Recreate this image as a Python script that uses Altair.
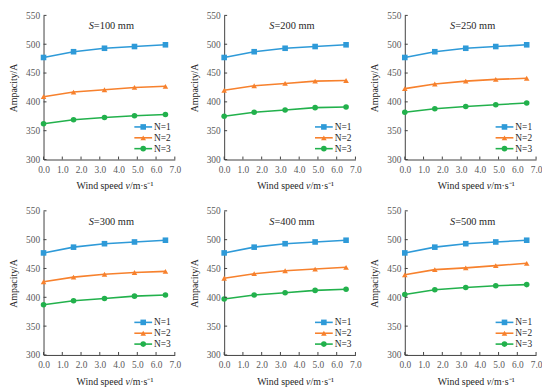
import altair as alt
import pandas as pd

# ---- data ----
wind = [0.0, 1.6, 3.25, 4.85, 6.5]
panels_s = ["100", "200", "250", "300", "400", "500"]
series = ["N=1", "N=2", "N=3"]

s100_n1 = [477, 487, 493, 496, 499]
s100_n2 = [409, 417, 421, 425, 427]
s100_n3 = [362, 369, 373, 376, 378]

s200_n1 = [477, 487, 493, 496, 499]
s200_n2 = [420, 428, 432, 436, 437]
s200_n3 = [375, 382, 386, 390, 391]

s250_n1 = [477, 487, 493, 496, 499]
s250_n2 = [423, 431, 436, 439, 441]
s250_n3 = [382, 388, 392, 395, 398]

s300_n1 = [477, 487, 493, 496, 499]
s300_n2 = [427, 435, 440, 443, 445]
s300_n3 = [387, 394, 398, 402, 404]

s400_n1 = [477, 487, 493, 496, 499]
s400_n2 = [433, 441, 446, 449, 452]
s400_n3 = [397, 404, 408, 412, 414]

s500_n1 = [477, 487, 493, 496, 499]
s500_n2 = [439, 448, 451, 455, 459]
s500_n3 = [405, 413, 417, 420, 422]

x_ticks = [0, 1, 2, 3, 4, 5, 6, 7]
y_ticks = [300, 350, 400, 450, 500, 550]

values = {
    "100": [s100_n1, s100_n2, s100_n3],
    "200": [s200_n1, s200_n2, s200_n3],
    "250": [s250_n1, s250_n2, s250_n3],
    "300": [s300_n1, s300_n2, s300_n3],
    "400": [s400_n1, s400_n2, s400_n3],
    "500": [s500_n1, s500_n2, s500_n3],
}

rows = []
for s in panels_s:
    for name, vals in zip(series, values[s]):
        for w, a in zip(wind, vals):
            rows.append({"S": s, "N": name, "wind": w, "amp": a})
df = pd.DataFrame(rows)

# ---- style ----
FONT = "Liberation Serif"
COLORS = ["#2E9AD8", "#F7812D", "#22B14C"]
SHAPES = ["square", "triangle-up", "circle"]
AXIS_C = "#404040"
TEXT_C = "#262626"
W, H = 133, 146

xscale = alt.Scale(domain=[0, 7], nice=False, zero=False)
yscale = alt.Scale(domain=[300, 550], nice=False, zero=False)
cscale = alt.Scale(domain=series, range=COLORS)
sscale = alt.Scale(domain=series, range=SHAPES)
xaxis = alt.Axis(title=None, values=x_ticks, format=".1f", ticks=False,
                 labelPadding=5, labelFlush=False, labelOverlap=False)
yaxis = alt.Axis(title="Ampacity/A", values=y_ticks, ticks=False,
                 labelPadding=4, titlePadding=7, labelFlush=False, labelOverlap=False)
one = pd.DataFrame({"k": [0]})


def txt(t, x, y, **kw):
    return alt.Chart(pd.DataFrame({"t": [t]})).mark_text(
        font=FONT, color=TEXT_C, baseline="middle", **kw
    ).encode(text="t:N", x=alt.value(x), y=alt.value(y))


def panel(s):
    d = df[df.S == s]
    x = alt.X("wind:Q", scale=xscale, axis=xaxis, title=None)
    y = alt.Y("amp:Q", scale=yscale, axis=yaxis, title="Ampacity/A")
    line = alt.Chart(d).mark_line(strokeWidth=1.6).encode(
        x=x, y=y, color=alt.Color("N:N", scale=cscale, legend=None))
    pts = alt.Chart(d).mark_point(filled=True, size=32, opacity=1).encode(
        x=x, y=y,
        color=alt.Color("N:N", scale=cscale, legend=None),
        shape=alt.Shape("N:N", scale=sscale, legend=None))

    xt = alt.Chart(pd.DataFrame({"wind": x_ticks})).mark_rule(color=AXIS_C).encode(
        x=x, y=alt.value(H), y2=alt.value(H - 3))
    yt = alt.Chart(pd.DataFrame({"amp": y_ticks})).mark_rule(color=AXIS_C).encode(
        y=y, x=alt.value(0), x2=alt.value(3))

    layers = [line, pts, xt, yt]

    # panel title  S=xxx mm
    layers.append(txt("S", 51, 11, fontSize=10.5, fontStyle="italic", align="right"))
    layers.append(txt("=" + s + " mm", 51, 11, fontSize=10.5, align="left"))

    # x axis title  Wind speed v/m·s⁻¹
    c = W / 2
    ty = H + 27
    layers.append(txt("Wind speed", c + 14, ty, fontSize=10, align="right"))
    layers.append(txt("v", c + 16.5, ty, fontSize=10, fontStyle="italic", align="left"))
    layers.append(txt("/m·s⁻¹", c + 21, ty, fontSize=10, align="left"))

    # legend
    for i, (name, col, shp) in enumerate(zip(series, COLORS, SHAPES)):
        ly = 113 + 11 * i
        layers.append(alt.Chart(one).mark_rule(color=col, strokeWidth=1.6).encode(
            x=alt.value(92), x2=alt.value(110), y=alt.value(ly)))
        layers.append(alt.Chart(one).mark_point(
            filled=True, size=32, opacity=1, color=col, shape=shp).encode(
            x=alt.value(101), y=alt.value(ly)))
        layers.append(txt(name, 112, ly, fontSize=9.5, align="left"))

    return alt.layer(*layers).properties(width=W, height=H)


chart = alt.concat(
    *[panel(s) for s in panels_s],
    columns=3,
    spacing={"row": 52, "column": 50},
    bounds="flush",
    padding=0,
).configure_axis(
    grid=False,
    labelFont=FONT, labelFontSize=9.5, labelColor="#595959",
    titleFont=FONT, titleFontSize=10, titleColor=TEXT_C, titleFontWeight="normal",
    domainColor=AXIS_C, domainWidth=1,
).configure_view(stroke=None)

chart.save("out.html", embed_options={"renderer": "svg", "actions": False})
